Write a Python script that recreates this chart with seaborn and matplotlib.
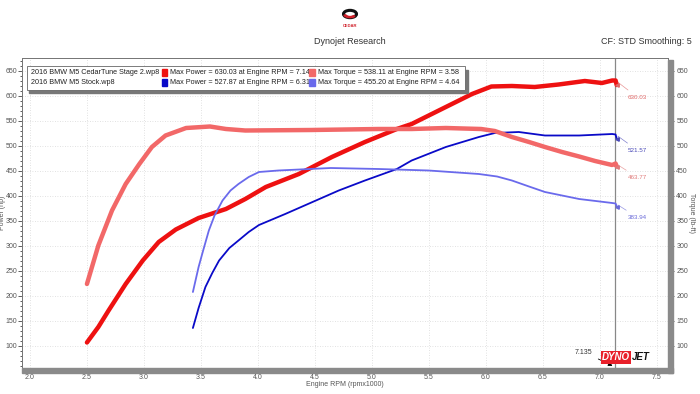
import seaborn as sns
import matplotlib.pyplot as plt
from matplotlib.patches import Rectangle, Wedge, Circle
from matplotlib.ticker import MultipleLocator

# values (rpm x1000)
stage2_power_rpm = [2.50, 2.60, 2.69, 2.84, 2.99, 3.13, 3.28, 3.48, 3.72, 3.89, 4.07, 4.36, 4.65,
                    4.94, 5.22, 5.35, 5.65, 5.88, 6.05, 6.23, 6.43, 6.64, 6.87, 7.02, 7.11, 7.14, 7.15]
stage2_power_hp = [106, 137, 170, 223, 270, 307, 332, 355, 373, 393, 417, 443, 477,
                   507, 533, 543, 577, 603, 618, 619, 617, 622, 629, 625, 630, 630, 621]

stage2_torque_rpm = [2.50, 2.60, 2.72, 2.84, 2.96, 3.07, 3.19, 3.37, 3.58, 3.72, 3.89, 4.47, 5.06,
                     5.35, 5.65, 5.96, 6.08, 6.23, 6.38, 6.52, 6.67, 6.82, 6.96, 7.11, 7.14, 7.15]
stage2_torque_lbft = [223, 300, 370, 423, 463, 497, 520, 535, 538, 533, 530, 531, 533,
                      533, 535, 533, 529, 517, 507, 497, 487, 478, 469, 461, 464, 458]

stock_power_rpm = [3.43, 3.48, 3.54, 3.60, 3.66, 3.75, 3.83, 3.92, 4.01, 4.24, 4.48, 4.71,
                   4.94, 5.22, 5.35, 5.65, 5.94, 6.08, 6.29, 6.52, 6.82, 7.11, 7.14, 7.15]
stock_power_hp = [135, 175, 217, 245, 270, 295, 310, 327, 341, 363, 387, 410,
                  430, 453, 470, 497, 517, 525, 527, 520, 520, 523, 522, 513]

stock_torque_rpm = [3.43, 3.48, 3.52, 3.57, 3.62, 3.69, 3.76, 3.83, 3.92, 4.01, 4.18, 4.64,
                    5.06, 5.50, 5.94, 6.10, 6.23, 6.38, 6.52, 6.82, 7.11, 7.14, 7.15]
stock_torque_lbft = [207, 257, 290, 330, 360, 390, 410, 423, 437, 447, 450, 455,
                     453, 450, 443, 438, 430, 418, 407, 393, 385, 384, 378]

run_names = ["2016 BMW M5 CedarTune Stage 2.wp8", "2016 BMW M5 Stock.wp8"]
power_notes = ["Max Power = 630.03 at Engine RPM = 7.14", "Max Power = 527.87 at Engine RPM = 6.31"]
torque_notes = ["Max Torque = 538.11 at Engine RPM = 3.58", "Max Torque = 455.20 at Engine RPM = 4.64"]
end_labels = ["630.03", "521.57", "463.77", "383.94"]
cursor_rpm = 7.135

RED = "#ee1111"
SALMON = "#f26868"
BLUE = "#0a0ac8"
LBLUE = "#6a6aec"
GREY_TXT = "#555555"

sns.set_theme(style="white")
plt.rcParams['font.family'] = ['Liberation Sans', 'DejaVu Sans']

W, H = 700, 394
def fx(px):
    return px / W
def fy(py):
    return 1 - py / H

fig = plt.figure(figsize=(7, 3.94), dpi=100)
ax = fig.add_axes([fx(22), fy(368), (668 - 22) / W, (368 - 58) / H])
ax2 = ax.twinx()

sns.lineplot(x=stage2_power_rpm, y=stage2_power_hp, ax=ax, color=RED, linewidth=3.2, legend=False)
sns.lineplot(x=stock_power_rpm, y=stock_power_hp, ax=ax, color=BLUE, linewidth=1.3, legend=False)
sns.lineplot(x=stage2_torque_rpm, y=stage2_torque_lbft, ax=ax2, color=SALMON, linewidth=3.2, legend=False)
sns.lineplot(x=stock_torque_rpm, y=stock_torque_lbft, ax=ax2, color=LBLUE, linewidth=1.3, legend=False)

for a in (ax, ax2):
    a.set_xlim(1.93, 7.6)
    a.set_ylim(55, 675)
    a.yaxis.set_major_locator(MultipleLocator(50))
    a.yaxis.set_minor_locator(MultipleLocator(10))
    a.tick_params(axis='y', which='both', direction='out', labelsize=5, labelcolor=GREY_TXT,
                  color="#444444", width=0.6, pad=1)
    a.tick_params(axis='y', which='major', length=2.6)
    a.tick_params(axis='y', which='minor', length=1.5)
    for s in a.spines.values():
        s.set_color("#777777")
        s.set_linewidth(0.7)
# right-hand labels sit outside the grey side bar
ax2.tick_params(axis='y', which='major', length=4.5, pad=1.5)
ax2.tick_params(axis='y', which='minor', length=3.2)

ax.xaxis.set_major_locator(MultipleLocator(0.5))
ax.xaxis.set_minor_locator(MultipleLocator(0.1))
ax.tick_params(axis='x', which='both', direction='in', labelsize=5, labelcolor=GREY_TXT,
               color="#444444", width=0.6, pad=4.5)
ax.tick_params(axis='x', which='major', length=4)
ax.tick_params(axis='x', which='minor', length=2.5)
ax.grid(True, which='major', color="#d8d8d8", linestyle=(0, (1, 2)), linewidth=0.6)
ax2.grid(False)

ax.set_xlabel("Engine RPM (rpmx1000)", fontsize=5, color=GREY_TXT, va='top')
ax.xaxis.set_label_coords(0.5, -0.043)
ax.set_ylabel("Power (hp)", fontsize=5, color=GREY_TXT)
ax.yaxis.set_label_coords(-0.025, 0.5)
ax2.set_ylabel("Torque (lb-ft)", fontsize=5, color=GREY_TXT, rotation=270, va='center')
ax2.yaxis.set_label_coords(1.036, 0.5)

# 3D-ish grey frame along bottom and right
fig.patches.append(Rectangle((fx(22), fy(373)), (673 - 22) / W, 5 / H, transform=fig.transFigure,
                             color="#8a8a8a", zorder=0))
fig.patches.append(Rectangle((fx(668), fy(373)), 5 / W, (373 - 60) / H, transform=fig.transFigure,
                             color="#8a8a8a", zorder=0))

# cursor line
ax.axvline(cursor_rpm, color="#888888", linewidth=0.9, zorder=1)
ax.annotate(f"{cursor_rpm:.3f}", xy=(cursor_rpm, 57), xytext=(6.86, 84), fontsize=5, color="#333333",
            ha='center', arrowprops=dict(arrowstyle='-|>', color="black", lw=0.6, mutation_scale=6))

# end-point readouts
ends = [(ax, stage2_power_rpm, stage2_power_hp, 596, "#e06a6a"),
        (ax, stock_power_rpm, stock_power_hp, 490, "#4a4ab8"),
        (ax2, stage2_torque_rpm, stage2_torque_lbft, 436, "#e07a7a"),
        (ax2, stock_torque_rpm, stock_torque_lbft, 356, "#6a6ad8")]
for (a, xs, ys, ylab, col), lab in zip(ends, end_labels):
    a.annotate(lab, xy=(xs[-2], ys[-2]), xytext=(7.25, ylab), fontsize=4.5, color=col, va='center',
               arrowprops=dict(arrowstyle='-', color=col, lw=0.5, alpha=0.7))
    a.plot(xs[-1], ys[-1], marker='<', color=col, markersize=2.5)

# legend box
tr = ax.transAxes
ax.add_patch(Rectangle((0.011, 0.886), 0.679, 0.075, transform=tr, color="#777777", zorder=5))
ax.add_patch(Rectangle((0.008, 0.897), 0.677, 0.077, transform=tr, facecolor="white",
                       edgecolor="#666666", lw=0.6, zorder=6))
rows_y = [0.952, 0.922]
sq_power = [RED, BLUE]
sq_torque = [SALMON, LBLUE]
for i in range(2):
    y = rows_y[i]
    ax.text(0.014, y, run_names[i], transform=tr, fontsize=5.2, color="#222222", va='center', zorder=7)
    ax.text(0.229, y, power_notes[i], transform=tr, fontsize=5.2, color="#222222", va='center', zorder=7)
    ax.text(0.458, y, torque_notes[i], transform=tr, fontsize=5.2, color="#222222", va='center', zorder=7)
    ax.add_patch(Rectangle((0.216, y - 0.011), 0.008, 0.022, transform=tr, color=sq_power[i], zorder=7))
    ax.add_patch(Rectangle((0.445, y - 0.011), 0.008, 0.022, transform=tr, color=sq_torque[i], zorder=7))

# DYNOJET mark
ax.text(0.898, 0.034, "DYNO", transform=tr, fontsize=7, color="white", fontweight='bold',
        style='italic', va='center', ha='left', zorder=7,
        bbox=dict(boxstyle='square,pad=0.12', facecolor="#e8202a", edgecolor='none'))
ax.text(0.944, 0.034, "JET", transform=tr, fontsize=7, color="#111111", fontweight='bold',
        style='italic', va='center', ha='left', zorder=7)

# header
fig.text(0.5, fy(42), "Dynojet Research", fontsize=6.5, color="#333333", ha='center', va='center')
fig.text(fx(692), fy(42), "CF: STD Smoothing: 5", fontsize=6.5, color="#333333", ha='right', va='center')
fig.patches.append(Circle((fx(350), fy(14)), 6.5 / W, transform=fig.transFigure, facecolor='none',
                          edgecolor="#111111", lw=2.2))
fig.patches.append(Wedge((fx(350), fy(14)), 6.5 / W, 200, 320, width=2 / W, transform=fig.transFigure,
                         color="#d0202a"))
fig.text(fx(350), fy(26), "CEDAR", fontsize=3, color="#d0202a", ha='center', va='center', fontweight='bold')

fig.savefig("out.png", dpi=100)
